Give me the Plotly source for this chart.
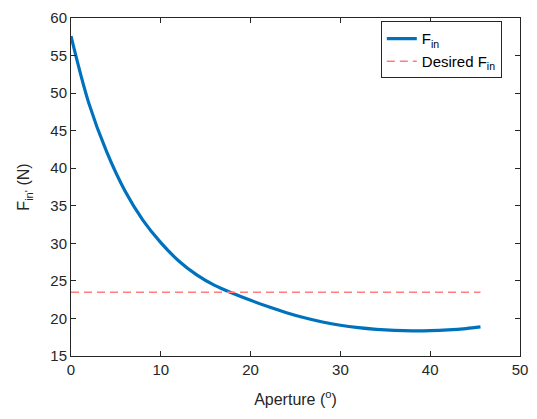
import plotly.graph_objects as go

aperture = [0, 2, 4, 6, 8, 10, 12, 14, 16, 18, 20, 22, 24, 26, 28, 30,
            32, 34, 36, 38, 40, 42, 44, 45.6]
force = [57.6, 48.6, 42.1, 37.0, 33.1, 30.1, 27.65, 25.8, 24.4, 23.35,
         22.41, 21.55, 20.77, 20.09, 19.53, 19.09, 18.77, 18.55, 18.41, 18.35,
         18.37, 18.47, 18.65, 18.87]
desired_x = [0, 45.6]
desired_force = [23.5, 23.5]

x_ticks = [0, 10, 20, 30, 40, 50]
y_ticks = [15, 20, 25, 30, 35, 40, 45, 50, 55, 60]

axis_color = "#262626"
font_family = "Liberation Sans, Arial, sans-serif"

fig = go.Figure()
fig.add_trace(go.Scatter(
    x=aperture, y=force, mode="lines", name="F<sub>in</sub>",
    line=dict(color="#0072BD", width=3.2, shape="spline", smoothing=1.0),
))
fig.add_trace(go.Scatter(
    x=desired_x, y=desired_force, mode="lines", name="Desired F<sub>in</sub>",
    line=dict(color="rgb(255,125,125)", width=1.5, dash="8px,5px"),
))

axis_common = dict(
    showgrid=False, zeroline=False, showline=True, linecolor=axis_color, linewidth=1,
    mirror="ticks", ticks="inside", ticklen=5, tickcolor=axis_color, tickwidth=1,
    tickfont=dict(family=font_family, size=15, color=axis_color),
)

fig.update_layout(
    width=537, height=419,
    margin=dict(l=71, r=17, t=9, b=63),
    paper_bgcolor="white", plot_bgcolor="white",
    font=dict(family=font_family, color=axis_color),
    xaxis=dict(range=[0, 50], tickvals=x_ticks,
               title=dict(text="Aperture (<sup>o</sup>)", font=dict(size=16, color=axis_color), standoff=16),
               **axis_common),
    yaxis=dict(range=[15, 60], tickvals=y_ticks,
               title=dict(text="F<sub>in'</sub> (N)", font=dict(size=16, color=axis_color), standoff=16),
               **axis_common),
    legend=dict(x=0.69, y=0.99, xanchor="left", yanchor="top",
                bordercolor=axis_color, borderwidth=1, bgcolor="white",
                font=dict(family=font_family, size=15, color="black"),
                tracegroupgap=2),
    showlegend=True,
)

fig.write_html("out.html")
